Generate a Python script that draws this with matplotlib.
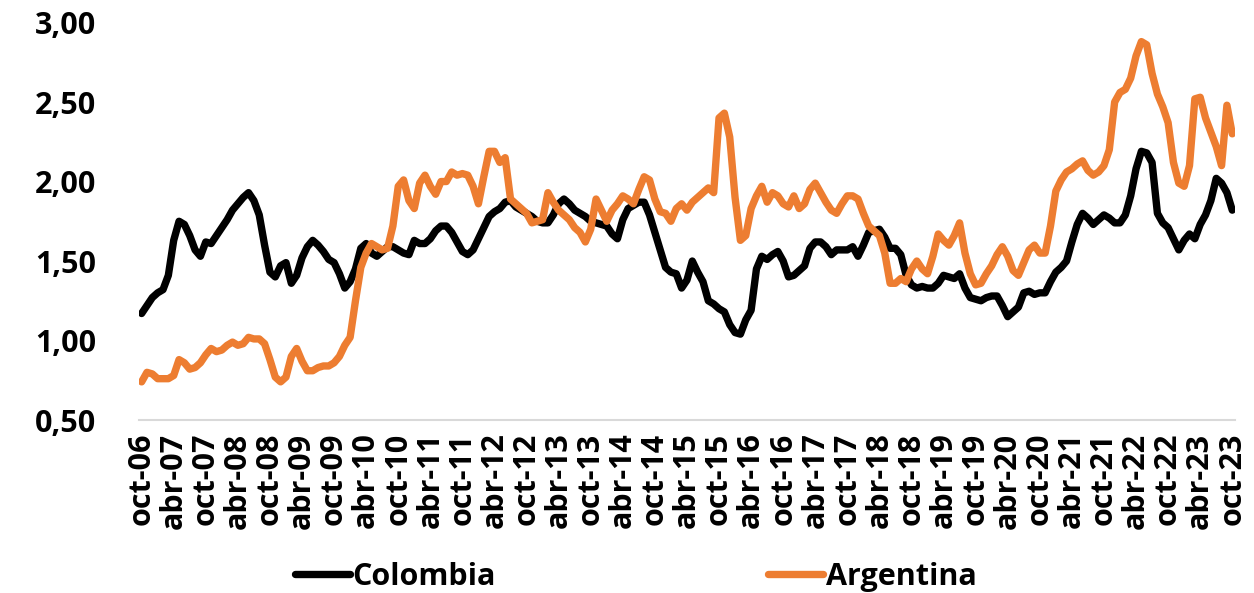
import matplotlib.pyplot as plt

# monthly values, oct-06 .. oct-23
colombia = [
    1.17, 1.22, 1.27, 1.30, 1.32, 1.41, 1.63, 1.75, 1.73, 1.66, 1.57, 1.53,
    1.62, 1.61, 1.66, 1.71, 1.76, 1.82, 1.86, 1.90, 1.93, 1.88, 1.79, 1.60,
    1.43, 1.40, 1.47, 1.49, 1.36, 1.41, 1.52, 1.59, 1.63, 1.60, 1.56, 1.51,
    1.49, 1.42, 1.33, 1.37, 1.45, 1.58, 1.61, 1.55, 1.53, 1.56, 1.59, 1.59,
    1.57, 1.55, 1.54, 1.63, 1.61, 1.61, 1.64, 1.69, 1.72, 1.72, 1.68, 1.62,
    1.56, 1.54, 1.57, 1.64, 1.71, 1.78, 1.81, 1.83, 1.87, 1.88, 1.84, 1.82,
    1.80, 1.78, 1.75, 1.74, 1.74, 1.79, 1.86, 1.89, 1.86, 1.82, 1.80, 1.78,
    1.75, 1.74, 1.73, 1.72, 1.67, 1.64, 1.76, 1.83, 1.85, 1.87, 1.87, 1.79,
    1.68, 1.57, 1.46, 1.43, 1.42, 1.33, 1.38, 1.50, 1.43, 1.37, 1.25, 1.23,
    1.20, 1.18, 1.10, 1.05, 1.04, 1.13, 1.19, 1.45, 1.53, 1.51, 1.54, 1.56,
    1.50, 1.40, 1.41, 1.44, 1.47, 1.58, 1.62, 1.62, 1.59, 1.54, 1.57, 1.57,
    1.57, 1.59, 1.53, 1.60, 1.68, 1.69, 1.70, 1.65, 1.58, 1.58, 1.54, 1.41,
    1.35, 1.33, 1.34, 1.33, 1.33, 1.36, 1.41, 1.40, 1.39, 1.42, 1.33, 1.27,
    1.26, 1.25, 1.27, 1.28, 1.28, 1.22, 1.15, 1.18, 1.21, 1.30, 1.31, 1.29,
    1.30, 1.30, 1.37, 1.43, 1.46, 1.50, 1.62, 1.73, 1.80, 1.77, 1.73, 1.76,
    1.79, 1.77, 1.74, 1.74, 1.79, 1.91, 2.08, 2.19, 2.18, 2.12, 1.80, 1.74,
    1.71, 1.64, 1.57, 1.63, 1.67, 1.64, 1.73, 1.79, 1.88, 2.02, 1.99, 1.93,
    1.82,
]
argentina = [
    0.74, 0.80, 0.79, 0.76, 0.76, 0.76, 0.78, 0.88, 0.86, 0.82, 0.83, 0.86,
    0.91, 0.95, 0.93, 0.94, 0.97, 0.99, 0.97, 0.98, 1.02, 1.01, 1.01, 0.98,
    0.88, 0.77, 0.74, 0.77, 0.90, 0.95, 0.87, 0.81, 0.81, 0.83, 0.84, 0.84,
    0.86, 0.90, 0.97, 1.02, 1.25, 1.46, 1.55, 1.61, 1.59, 1.57, 1.58, 1.72,
    1.97, 2.01, 1.88, 1.83, 1.99, 2.04, 1.97, 1.92, 2.00, 2.00, 2.06, 2.04,
    2.05, 2.04, 1.97, 1.86, 2.03, 2.19, 2.19, 2.12, 2.15, 1.89, 1.86, 1.83,
    1.80, 1.74, 1.75, 1.76, 1.93, 1.87, 1.82, 1.79, 1.76, 1.71, 1.68, 1.62,
    1.70, 1.89, 1.82, 1.75, 1.82, 1.86, 1.91, 1.89, 1.86, 1.95, 2.03, 2.01,
    1.89, 1.81, 1.80, 1.75, 1.83, 1.86, 1.82, 1.87, 1.90, 1.93, 1.96, 1.93,
    2.40, 2.43, 2.28, 1.90, 1.63, 1.66, 1.83, 1.91, 1.97, 1.87, 1.93, 1.91,
    1.86, 1.84, 1.91, 1.83, 1.86, 1.95, 1.99, 1.93, 1.87, 1.82, 1.80, 1.86,
    1.91, 1.91, 1.89, 1.80, 1.72, 1.69, 1.66, 1.55, 1.36, 1.36, 1.39, 1.37,
    1.45, 1.50, 1.45, 1.42, 1.53, 1.67, 1.63, 1.60, 1.66, 1.74, 1.55, 1.42,
    1.35, 1.36, 1.42, 1.47, 1.54, 1.59, 1.53, 1.44, 1.41, 1.49, 1.57, 1.60,
    1.55, 1.55, 1.72, 1.94, 2.01, 2.06, 2.08, 2.11, 2.13, 2.07, 2.04, 2.06,
    2.10, 2.20, 2.50, 2.56, 2.58, 2.65, 2.79, 2.88, 2.86, 2.68, 2.55, 2.47,
    2.37, 2.12, 1.99, 1.97, 2.10, 2.52, 2.53, 2.40, 2.31, 2.22, 2.10, 2.48,
    2.30,
]
tick_labels = [
    'oct-06', 'abr-07', 'oct-07', 'abr-08', 'oct-08', 'abr-09', 'oct-09',
    'abr-10', 'oct-10', 'abr-11', 'oct-11', 'abr-12', 'oct-12', 'abr-13',
    'oct-13', 'abr-14', 'oct-14', 'abr-15', 'oct-15', 'abr-16', 'oct-16',
    'abr-17', 'oct-17', 'abr-18', 'oct-18', 'abr-19', 'oct-19', 'abr-20',
    'oct-20', 'abr-21', 'oct-21', 'abr-22', 'oct-22', 'abr-23', 'oct-23',
]
y_ticks = [0.5, 1.0, 1.5, 2.0, 2.5, 3.0]
y_labels = ['0,50', '1,00', '1,50', '2,00', '2,50', '3,00']

plt.rcParams['font.family'] = ['Open Sans', 'DejaVu Sans']
plt.rcParams['font.weight'] = 'bold'

fig = plt.figure(figsize=(12.54, 5.93), dpi=100)
ax = fig.add_axes([0.1108, 0.2917, 0.874, 0.6703])

months = list(range(len(colombia)))
ax.plot(months, colombia, color='black', lw=5.3, label='Colombia',
        solid_joinstyle='round', solid_capstyle='round')
ax.plot(months, argentina, color='#ED7D31', lw=5.3, label='Argentina',
        solid_joinstyle='round', solid_capstyle='round')

ax.set_xlim(-0.5, len(months) - 0.5)
ax.set_ylim(0.5, 3.0)
ax.set_yticks(y_ticks)
ax.set_yticklabels(y_labels, fontsize=22, fontweight='bold')
ax.set_xticks(months[::6])
ax.set_xticklabels(tick_labels, rotation=90, fontsize=22, fontweight='bold')
ax.tick_params(axis='both', length=0)
ax.tick_params(axis='y', pad=31)
ax.tick_params(axis='x', pad=9)

for side in ['top', 'right', 'left']:
    ax.spines[side].set_visible(False)
ax.spines['bottom'].set_color('#D9D9D9')
ax.spines['bottom'].set_linewidth(1.5)

fig.legend(loc='center', bbox_to_anchor=(0.507, 0.027), ncol=2, frameon=False,
           prop={'size': 22, 'weight': 'bold'}, handlelength=1.8,
           handletextpad=0.1, columnspacing=8.9)

fig.savefig('out.png', dpi=100)
